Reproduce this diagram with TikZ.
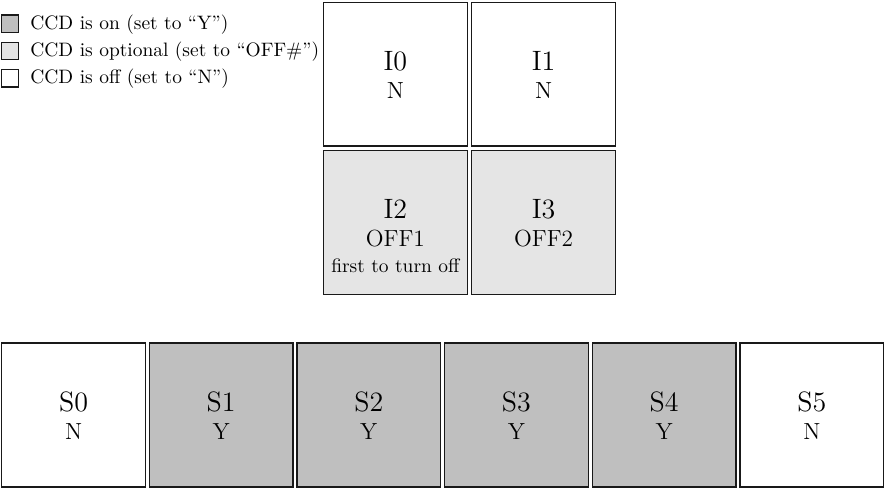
\documentclass[tikz,border=0pt]{standalone}
\usetikzlibrary{calc}
\tikzset{
  ccdbox/.style={draw=black!90, line width=0.7pt, minimum size=2.60cm, inner sep=0pt},
  ccdon/.style={ccdbox, fill=gray!50},
  ccdopt/.style={ccdbox, fill=gray!20},
  ccdoff/.style={ccdbox, fill=white},
  lgbox/.style={draw=black!90, line width=0.7pt, minimum size=0.31cm, inner sep=0pt},
  lgtext/.style={anchor=base west, inner sep=0pt},
  nametext/.style={anchor=base, inner sep=0pt, font=\Large},
  valtext/.style={anchor=base, inner sep=0pt, font=\large},
  notetext/.style={anchor=base, inner sep=0pt},
}
\begin{document}
\begin{tikzpicture}[x=0.018079cm,y=-0.018079cm]
\useasboundingbox (0,0) rectangle (885,490);
% legend
\node[lgbox, fill=gray!50] (L1) at (10,23.7) {};
\node[lgbox, fill=gray!20] (L2) at (10,51) {};
\node[lgbox, fill=white] (L3) at (10,78.3) {};
\node[lgtext] (T1) at (30,29) {CCD is on (set to “Y”)};
\node[lgtext] (T2) at (30,56.5) {CCD is optional (set to “OFF\#”)};
\node[lgtext] (T3) at (30,83.8) {CCD is off (set to “N”)};
% I boxes
\node[ccdoff] (I0) at (395.4,74.2) {};
\node[ccdoff] (I1) at (543.6,74.2) {};
\node[ccdopt] (I2) at (395.4,222.5) {};
\node[ccdopt] (I3) at (543.6,222.5) {};
\foreach \n/\v in {I0/N,I1/N,I2/OFF1,I3/OFF2}{
  \node[nametext] (\n n) at ($(\n.center)+(0,-3.8)$) {\n};
  \node[valtext] (\n v) at ($(\n.center)+(0,23.8)$) {\v};
}
\node[notetext] (I2note) at ($(I2.center)+(0,49.8)$) {first to turn off};
% S boxes
\node[ccdoff] (S0) at (73.6,415) {};
\node[ccdon] (S1) at (221.2,415) {};
\node[ccdon] (S2) at (368.8,415) {};
\node[ccdon] (S3) at (516.4,415) {};
\node[ccdon] (S4) at (664.1,415) {};
\node[ccdoff] (S5) at (811.8,415) {};
\foreach \n/\v in {S0/N,S1/Y,S2/Y,S3/Y,S4/Y,S5/N}{
  \node[nametext] (\n n) at ($(\n.center)+(0,-3.5)$) {\n};
  \node[valtext] (\n v) at ($(\n.center)+(0,24.3)$) {\v};
}
\end{tikzpicture}
\end{document}
